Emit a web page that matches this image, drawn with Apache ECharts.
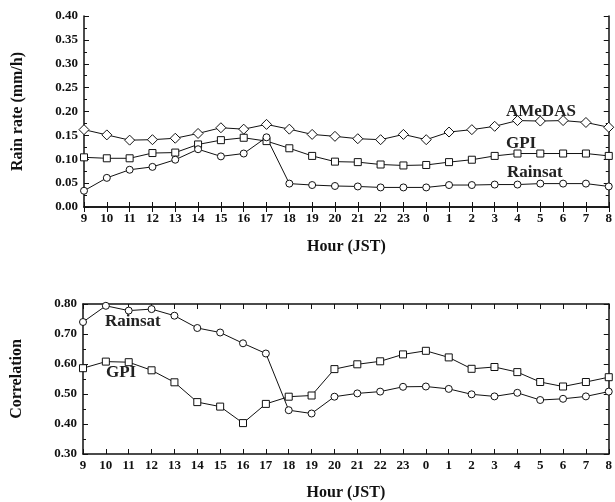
<!DOCTYPE html>
<html>
<head>
<meta charset="utf-8">
<script src="https://cdn.jsdelivr.net/npm/echarts@6/dist/echarts.min.js"></script>
<style>
    html, body { margin: 0; padding: 0; background: #fff; }
    #main { width: 615px; height: 502px; }
</style>
</head>
<body>
<div id="main"></div>
<script>
    // 时间轴 (JST)
    var hours = ['9','10','11','12','13','14','15','16','17','18','19','20','21','22','23','0','1','2','3','4','5','6','7','8'];
    var rateTicks = [0, 0.4, 0.05];
    var corrTicks = [0.3, 0.8, 0.1];

    // 上图 降雨率 (mm/h)
    var rateAmedas = [0.162,0.151,0.140,0.141,0.144,0.154,0.166,0.163,0.173,0.163,0.152,0.148,0.143,0.141,0.152,0.141,0.157,0.162,0.169,0.181,0.180,0.181,0.177,0.167];
    var rateGpi = [0.104,0.102,0.102,0.113,0.114,0.131,0.140,0.145,0.138,0.123,0.107,0.095,0.094,0.089,0.087,0.088,0.094,0.099,0.107,0.112,0.112,0.112,0.112,0.107];
    var rateRainsat = [0.034,0.061,0.078,0.084,0.099,0.121,0.106,0.112,0.146,0.049,0.046,0.044,0.043,0.041,0.041,0.041,0.046,0.046,0.047,0.047,0.049,0.049,0.049,0.043];

    // 下图 相关系数
    var corrRainsat = [0.740,0.794,0.778,0.783,0.761,0.720,0.705,0.669,0.635,0.446,0.435,0.491,0.502,0.508,0.524,0.525,0.517,0.499,0.492,0.504,0.480,0.484,0.492,0.508];
    var corrGpi = [0.586,0.608,0.606,0.579,0.539,0.473,0.458,0.403,0.467,0.491,0.495,0.583,0.599,0.609,0.632,0.644,0.622,0.584,0.590,0.573,0.540,0.525,0.540,0.556];

    var FONT = 'Liberation Serif';
    var black = '#111';

    function xAxes(gi, nameGap) {
        return [{
            type: 'category', gridIndex: gi, data: hours, boundaryGap: false,
            name: 'Hour (JST)', nameLocation: 'middle', nameGap: nameGap,
            nameTextStyle: { fontFamily: FONT, fontWeight: 'bold', fontSize: 16, color: black },
            axisLine: { lineStyle: { color: black, width: 1.5 } },
            axisTick: { inside: true, length: 5, lineStyle: { color: black } },
            axisLabel: { fontFamily: FONT, fontWeight: 'bold', fontSize: 13, color: black, margin: 5, interval: 0 },
            splitLine: { show: false }
        }, {
            // 上边框
            type: 'category', gridIndex: gi, data: hours, boundaryGap: false, position: 'top',
            axisLine: { lineStyle: { color: black, width: 1.5 } },
            axisTick: { inside: true, length: 5, lineStyle: { color: black } },
            axisLabel: { show: false }, splitLine: { show: false }
        }];
    }

    function yAxes(gi, t, name) {
        return [{
            type: 'value', gridIndex: gi, min: t[0], max: t[1], interval: t[2],
            name: name, nameLocation: 'middle', nameGap: 58,
            nameTextStyle: { fontFamily: FONT, fontWeight: 'bold', fontSize: 16, color: black },
            axisLine: { show: true, lineStyle: { color: black, width: 1.5 } },
            axisTick: { show: true, inside: true, length: 5, lineStyle: { color: black } },
            minorTick: { show: true, splitNumber: 2, length: 3, lineStyle: { color: black } },
            axisLabel: { fontFamily: FONT, fontWeight: 'bold', fontSize: 13, color: black, margin: 6,
                formatter: function (v) { return v.toFixed(2); } },
            splitLine: { show: false }
        }, {
            // 右边框
            type: 'value', gridIndex: gi, min: t[0], max: t[1], interval: t[2], position: 'right',
            axisLine: { show: true, lineStyle: { color: black, width: 1.5 } },
            axisTick: { show: true, inside: true, length: 5, lineStyle: { color: black } },
            minorTick: { show: true, splitNumber: 2, length: 3, lineStyle: { color: black } },
            axisLabel: { show: false }, splitLine: { show: false }
        }];
    }

    function line(name, data, symbol, size, xi, yi) {
        return {
            name: name, type: 'line', data: data, xAxisIndex: xi, yAxisIndex: yi,
            symbol: symbol, symbolSize: size, showAllSymbol: true,
            lineStyle: { color: black, width: 1 },
            itemStyle: { color: '#fff', borderColor: black, borderWidth: 1 },
            animation: false
        };
    }

    function label(text, left, top) {
        return { type: 'text', left: left, top: top,
            style: { text: text, fontFamily: FONT, fontWeight: 'bold', fontSize: 17, fill: '#222' } };
    }

    var myChart = echarts.init(document.getElementById('main'));
    var option = {
        backgroundColor: '#fff',
        animation: false,
        grid: [
            { left: 84, top: 16, width: 530, height: 191 },
            { left: 83, top: 304, width: 531, height: 154 }
        ],
        xAxis: xAxes(0, 32).concat(xAxes(1, 31)),
        yAxis: yAxes(0, rateTicks, 'Rain rate (mm/h)').concat(yAxes(1, corrTicks, 'Correlation')),
        series: [
            line('AMeDAS', rateAmedas, 'diamond', 10, 0, 0),
            line('GPI', rateGpi, 'rect', 7, 0, 0),
            line('Rainsat', rateRainsat, 'circle', 7, 0, 0),
            line('Rainsat', corrRainsat, 'circle', 7, 2, 2),
            line('GPI', corrGpi, 'rect', 7, 2, 2)
        ],
        graphic: [
            label('AMeDAS', 506, 103),
            label('GPI', 506, 135),
            label('Rainsat', 507, 164),
            label('Rainsat', 105, 313),
            label('GPI', 106, 364)
        ]
    };
    myChart.setOption(option);
</script>
</body>
</html>
